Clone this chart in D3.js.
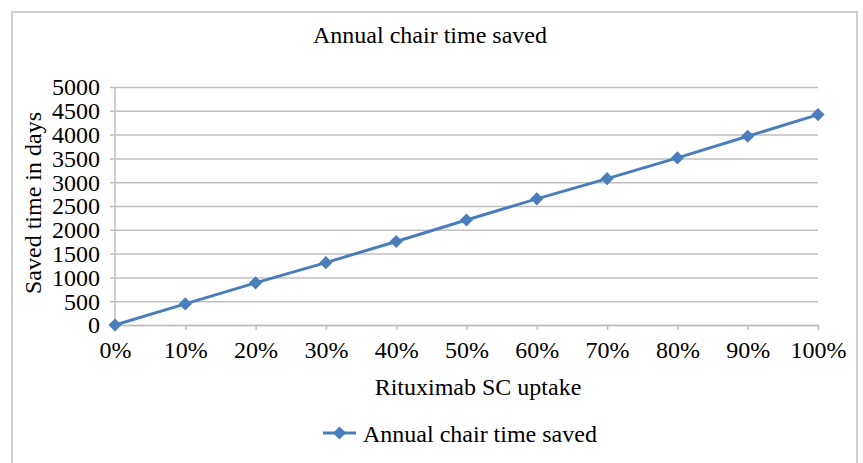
<!DOCTYPE html>
<html lang="en">
<head>
<meta charset="UTF-8">
<script src="https://d3js.org/d3.v7.min.js"></script>
<style>
  body { margin: 0; background: #fff; }
  svg text { font-family: "Liberation Serif", "Times New Roman", serif; fill: #000; }
</style>
</head>
<body>
<svg id="svg" width="863" height="463"></svg>
<script>
// chart data
var uptakeLabels = ["0%", "10%", "20%", "30%", "40%", "50%", "60%", "70%", "80%", "90%", "100%"];
var savedDays = [0, 443, 885, 1310, 1755, 2205, 2650, 3075, 3510, 3965, 4420];
var yTicks = [0, 500, 1000, 1500, 2000, 2500, 3000, 3500, 4000, 4500, 5000];
var seriesName = "Annual chair time saved";

var svg = d3.select("#svg");
var fontSize = 24;
var blue = "#4A7EBB";
var grid = "#BFBFBF";

// outer frame
svg.append("rect")
  .attr("x", 12).attr("y", 12)
  .attr("width", 845).attr("height", 470)
  .attr("fill", "none")
  .attr("stroke", "#CFCFCF")
  .attr("stroke-width", 2);

var plotLeft = 115, plotRight = 818, plotTop = 87, plotBottom = 325;

var x = d3.scalePoint().domain(uptakeLabels).range([plotLeft, plotRight]);
var y = d3.scaleLinear().domain([0, 5000]).range([plotBottom, plotTop]);

// horizontal gridlines + y axis
var yAxis = d3.axisLeft(y)
  .tickValues(yTicks)
  .tickFormat(d3.format("d"))
  .tickSize(-(plotRight - plotLeft))
  .tickSizeOuter(0);
var gy = svg.append("g").attr("transform", "translate(" + plotLeft + ",0)").call(yAxis);
gy.select(".domain").attr("stroke", grid).attr("stroke-width", 1.5).attr("d", "M0," + plotTop + "V" + plotBottom);
gy.selectAll(".tick line").attr("stroke", grid).attr("stroke-width", 1.5).attr("x1", -5);
gy.selectAll(".tick text")
  .attr("x", -15)
  .attr("dy", "0.33em")
  .style("font-size", fontSize + "px");

// x axis
var xAxis = d3.axisBottom(x).tickSize(5).tickSizeOuter(0);
var gx = svg.append("g").attr("transform", "translate(0," + plotBottom + ")").call(xAxis);
gx.select(".domain").attr("stroke", grid).attr("stroke-width", 1.5);
gx.selectAll(".tick line").attr("stroke", grid).attr("stroke-width", 1.5);
gx.selectAll(".tick text")
  .attr("y", 16)
  .attr("dy", "0.71em")
  .style("font-size", fontSize + "px");

// series line
var line = d3.line()
  .x(function (d, i) { return x(uptakeLabels[i]); })
  .y(function (d) { return y(d); });

svg.append("path")
  .datum(savedDays)
  .attr("d", line)
  .attr("fill", "none")
  .attr("stroke", blue)
  .attr("stroke-width", 3);

var diamond = d3.symbol().type(d3.symbolDiamond2).size(110);
svg.selectAll(".marker")
  .data(savedDays)
  .enter()
  .append("path")
  .attr("class", "marker")
  .attr("d", diamond)
  .attr("transform", function (d, i) { return "translate(" + x(uptakeLabels[i]) + "," + y(d) + ")"; })
  .attr("fill", blue);

// title
svg.append("text")
  .attr("x", 430).attr("y", 43)
  .attr("text-anchor", "middle")
  .style("font-size", fontSize + "px")
  .text(seriesName);

// axis titles
svg.append("text")
  .attr("x", 478).attr("y", 395)
  .attr("text-anchor", "middle")
  .style("font-size", fontSize + "px")
  .text("Rituximab SC uptake");

svg.append("text")
  .attr("transform", "translate(41,203) rotate(-90)")
  .attr("text-anchor", "middle")
  .style("font-size", fontSize + "px")
  .text("Saved time in days");

// legend
var lg = svg.append("g").attr("transform", "translate(323,433)");
lg.append("line")
  .attr("x1", 0).attr("x2", 33).attr("y1", 0).attr("y2", 0)
  .attr("stroke", blue).attr("stroke-width", 3);
lg.append("path")
  .attr("d", diamond)
  .attr("transform", "translate(16.5,0)")
  .attr("fill", blue);
lg.append("text")
  .attr("x", 40).attr("y", 9)
  .style("font-size", fontSize + "px")
  .text(seriesName);
</script>
</body>
</html>
